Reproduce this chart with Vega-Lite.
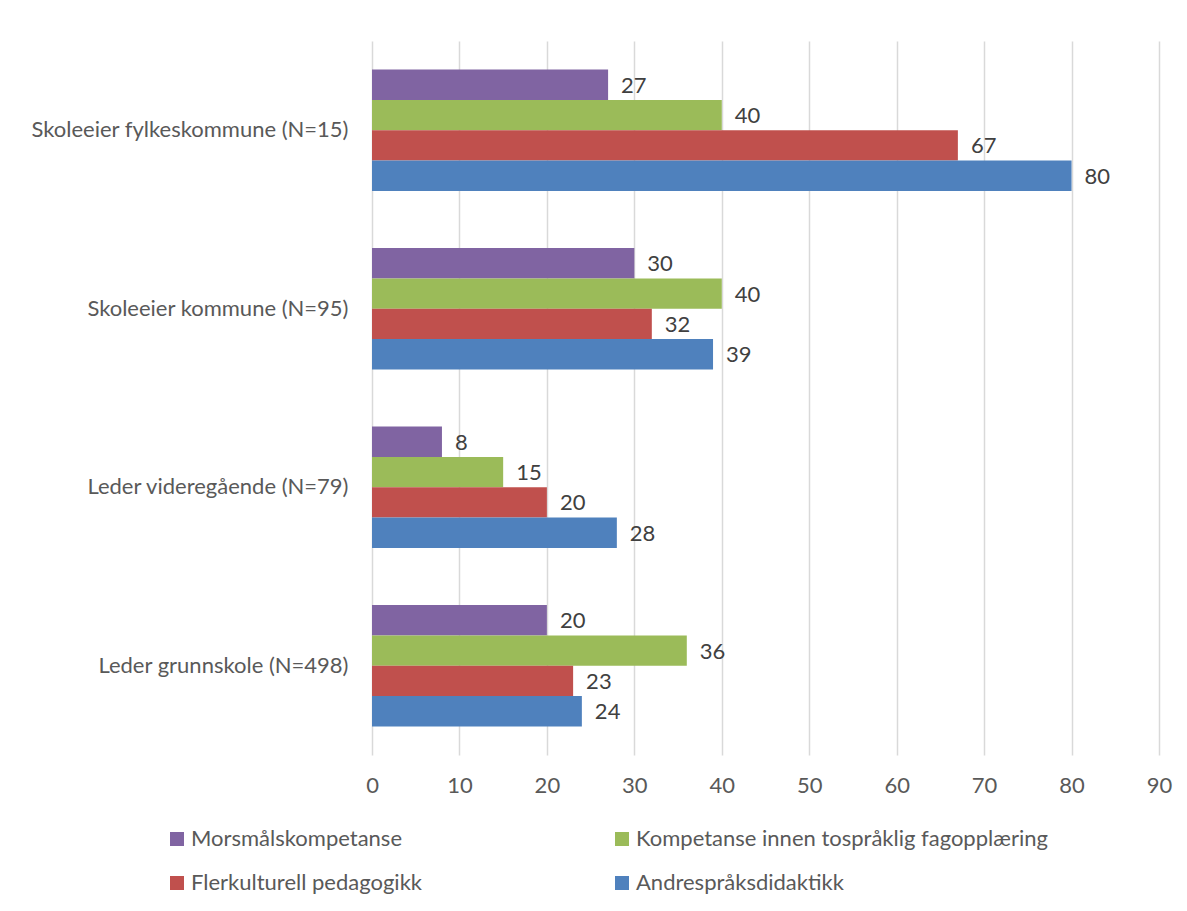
{
  "$schema": "https://vega.github.io/schema/vega-lite/v6.json",
  "autosize": "none",
  "width": 787,
  "height": 714,
  "padding": {"left": 372, "top": 41, "right": 28, "bottom": 156},
  "background": "white",
  "config": {
    "view": {"stroke": null},
    "font": "Lato",
    "axis": {"labelFont": "Lato", "labelFontSize": 22, "labelColor": "#595959"},
    "legend": {"labelFont": "Lato", "labelFontSize": 22, "labelColor": "#595959"}
  },
  "data": {
    "values": [
      {"group": "Skoleeier fylkeskommune (N=15)", "series": "Morsmålskompetanse", "value": 27},
      {"group": "Skoleeier fylkeskommune (N=15)", "series": "Kompetanse innen tospråklig fagopplæring", "value": 40},
      {"group": "Skoleeier fylkeskommune (N=15)", "series": "Flerkulturell pedagogikk", "value": 67},
      {"group": "Skoleeier fylkeskommune (N=15)", "series": "Andrespråksdidaktikk", "value": 80},
      {"group": "Skoleeier kommune (N=95)", "series": "Morsmålskompetanse", "value": 30},
      {"group": "Skoleeier kommune (N=95)", "series": "Kompetanse innen tospråklig fagopplæring", "value": 40},
      {"group": "Skoleeier kommune (N=95)", "series": "Flerkulturell pedagogikk", "value": 32},
      {"group": "Skoleeier kommune (N=95)", "series": "Andrespråksdidaktikk", "value": 39},
      {"group": "Leder videregående (N=79)", "series": "Morsmålskompetanse", "value": 8},
      {"group": "Leder videregående (N=79)", "series": "Kompetanse innen tospråklig fagopplæring", "value": 15},
      {"group": "Leder videregående (N=79)", "series": "Flerkulturell pedagogikk", "value": 20},
      {"group": "Leder videregående (N=79)", "series": "Andrespråksdidaktikk", "value": 28},
      {"group": "Leder grunnskole (N=498)", "series": "Morsmålskompetanse", "value": 20},
      {"group": "Leder grunnskole (N=498)", "series": "Kompetanse innen tospråklig fagopplæring", "value": 36},
      {"group": "Leder grunnskole (N=498)", "series": "Flerkulturell pedagogikk", "value": 23},
      {"group": "Leder grunnskole (N=498)", "series": "Andrespråksdidaktikk", "value": 24}
    ]
  },
  "encoding": {
    "y": {
      "field": "group",
      "type": "nominal",
      "sort": ["Skoleeier fylkeskommune (N=15)", "Skoleeier kommune (N=95)", "Leder videregående (N=79)", "Leder grunnskole (N=498)"],
      "scale": {"paddingInner": 0.32, "paddingOuter": 0.16},
      "axis": {"title": null, "domain": false, "ticks": false, "labelPadding": 24, "labelLimit": 400}
    },
    "yOffset": {
      "field": "series",
      "type": "nominal",
      "sort": ["Morsmålskompetanse", "Kompetanse innen tospråklig fagopplæring", "Flerkulturell pedagogikk", "Andrespråksdidaktikk"],
      "scale": {"paddingInner": 0, "paddingOuter": 0}
    },
    "x": {
      "field": "value",
      "type": "quantitative",
      "scale": {"domain": [0, 90], "nice": false},
      "axis": {
        "title": null,
        "values": [0, 10, 20, 30, 40, 50, 60, 70, 80, 90],
        "domain": false,
        "ticks": false,
        "grid": true,
        "gridColor": "#d9d9d9",
        "gridWidth": 1.5,
        "labelFlush": false,
        "labelOverlap": false,
        "labelPadding": 20
      }
    }
  },
  "layer": [
    {
      "mark": {"type": "bar"},
      "encoding": {
        "color": {
          "field": "series",
          "type": "nominal",
          "scale": {
            "domain": ["Morsmålskompetanse", "Kompetanse innen tospråklig fagopplæring", "Flerkulturell pedagogikk", "Andrespråksdidaktikk"],
            "range": ["#8064A2", "#9BBB59", "#C0504D", "#4F81BD"]
          },
          "legend": {
            "title": null,
            "orient": "none",
            "legendX": -206,
            "legendY": 787,
            "direction": "horizontal",
            "columns": 2,
            "gridAlign": "all",
            "columnPadding": 8,
            "rowPadding": 22,
            "symbolType": "square",
            "symbolSize": 196,
            "symbolStrokeWidth": 0,
            "symbolOpacity": 1,
            "labelOffset": 3,
            "labelLimit": 500
          }
        }
      }
    },
    {
      "mark": {"type": "text", "align": "left", "baseline": "middle", "dx": 13, "dy": 1, "fontSize": 22, "font": "Lato", "color": "#404040"},
      "encoding": {
        "text": {"field": "value", "type": "quantitative"}
      }
    }
  ]
}
